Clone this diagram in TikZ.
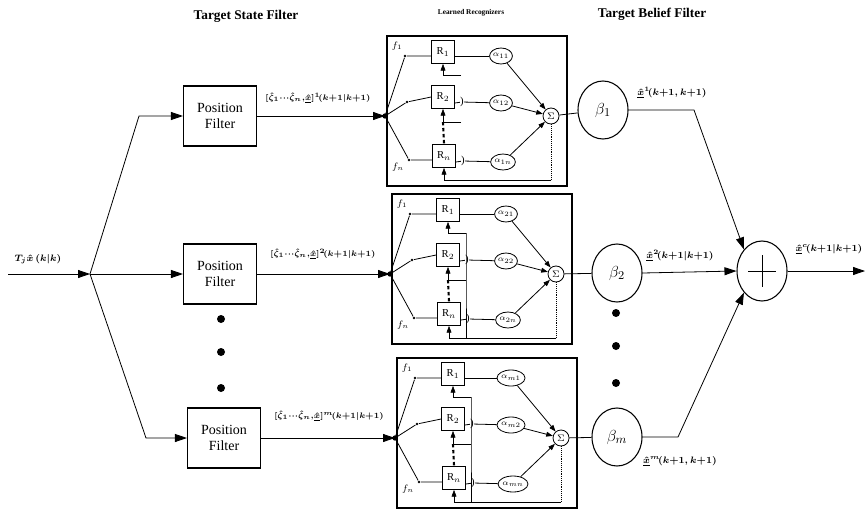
\documentclass[tikz,border=0pt]{standalone}
\usepackage{fontspec}
\setmainfont{Liberation Serif}
\usetikzlibrary{arrows.meta,shapes.geometric}
\tikzset{
  arrB/.style={-{Triangle[length=9pt,width=6pt]}},
  arrS/.style={-{Triangle[length=5pt,width=3.6pt]}},
  pfbox/.style={draw, line width=0.8pt, minimum width=54.75pt, minimum height=45pt, align=center, inner sep=1pt, font=\fontsize{10.5}{12.5}\selectfont},
  recframe/.style={line width=1pt},
  rbox/.style={draw, line width=0.8pt, minimum size=17pt, inner sep=0pt, font=\fontsize{8}{9}\selectfont},
  anode/.style={draw, ellipse, minimum width=17pt, minimum height=12pt, inner sep=0pt, font=\fontsize{6.5}{7}\selectfont},
  snode/.style={draw, circle, minimum size=12pt, inner sep=0pt, font=\fontsize{7}{8}\selectfont},
  bnode/.style={draw, ellipse, minimum width=37.5pt, minimum height=43.5pt, line width=0.8pt, inner sep=0pt, font=\fontsize{13}{14}\selectfont},
  sumnode/.style={draw, ellipse, minimum width=37.5pt, minimum height=45pt, line width=0.8pt, inner sep=0pt},
  smalldot/.style={circle, fill, inner sep=0pt, minimum size=2.2pt},
  bigdot/.style={circle, fill, inner sep=0pt, minimum size=6pt},
  flab/.style={inner sep=0pt, font=\fontsize{7}{8}\selectfont},
  brk/.style={inner sep=0pt, font=\fontsize{8}{9}\selectfont},
  ttl/.style={font=\bfseries\fontsize{10}{12}\selectfont},
  elab/.style={inner sep=0pt, font=\fontsize{6.3}{7}\selectfont\bfseries\boldmath},
  olab/.style={inner sep=0pt, font=\fontsize{7}{8}\selectfont\bfseries\boldmath},
  dotcol/.style={line width=1.6pt, dash pattern=on 2.5pt off 2pt},
  fbline/.style={line width=0.4pt},
}
\newcommand{\recbox}[6]{%
\begin{scope}[shift={(#2,#3)}]
  \draw[recframe] (0,0) rectangle (180,150);
  \coordinate (#1J) at (-2,80);
  \node[smalldot, minimum size=4pt] (#1Jd) at (#1J) {};
  \node[smalldot] (#1d1) at (18,20) {};
  \node[smalldot] (#1d2) at (20,66) {};
  \node[smalldot] (#1d3) at (22,124) {};
  \node[flab] (#1f1) at (10,10) {$f_1$};
  \node[flab] (#1fn) at (11,131) {$f_n$};
  \node[rbox] (#1R1) at (56,16) {R$_1$};
  \node[rbox] (#1R2) at (56,61) {R$_2$};
  \node[rbox] (#1Rn) at (57,120) {R$_n$};
  \node[anode] (#1a1) at (114,20) {$\alpha_{#4}$};
  \node[anode] (#1a2) at (114,67) {$\alpha_{#5}$};
  \node[anode] (#1a3) at (116,126) {$\alpha_{#6}$};
  \node[snode] (#1S) at (164,80) {$\Sigma$};
  \node[brk] (#1b2) at (75,66) {)};
  \node[brk] (#1b3) at (76,125) {)};
  \coordinate (#1t1) at (74,39);
  \coordinate (#1t2) at (74,86);
  \coordinate (#1t3) at (164,144);
  \coordinate (#1u1) at (56,39);
  \coordinate (#1u2) at (56,86);
  \coordinate (#1u3) at (57,144);
  \draw (#1J) -- (#1d1) -- (#1d1 -| #1R1.west);
  \draw (#1J) -- (#1d2) -- (#1R2.west);
  \draw (#1J) -- (#1d3) -- (#1d3 -| #1Rn.west);
  \draw (#1R1.east |- #1a1) -- (#1a1);
  \draw (#1R2.east |- #1a2) -- (#1b2);
  \draw (#1b2) -- (#1a2);
  \draw (#1Rn.east |- #1a3) -- (#1b3);
  \draw (#1b3) -- (#1a3);
  \draw[arrS] (#1a1) -- (#1S);
  \draw[arrS] (#1a2) -- (#1S);
  \draw[arrS] (#1a3) -- (#1S);
  \draw[fbline, densely dotted] (#1S.south) -- (#1t3);
  \draw[fbline, arrS] (#1t3) -- (#1u3) -- (#1Rn.south);
  \draw[fbline, arrS] (#1t1) -- (#1u1) -- (#1R1.south);
  \draw[fbline, arrS] (#1t2) -- (#1u2) -- (#1R2.south);
  \draw[dotcol] (#1u2) -- (#1Rn.north);
\end{scope}}
\newcommand{\zlab}[1]{$[\hat{\zeta}_1{\cdot}{\cdot}{\cdot}\hat{\zeta}_n{,}\underline{\hat{x}}]^{#1}\!(k{+}1|k{+}1)$}
\newcommand{\xlab}[2]{$\underline{\hat{x}}^{#1}\!(k{+}1#2k{+}1)$}

\begin{document}
\begin{tikzpicture}[x=0.75pt,y=-0.75pt,line width=0.6pt]
\useasboundingbox (0,0) rectangle (866,510);

% titles
\node[ttl] (t1) at (246,16) {Target State Filter};
\node[ttl] (t2) at (652,14) {Target Belief Filter};
\node[font=\bfseries\fontsize{5.5}{6.5}\selectfont] (t3) at (471,13) {Learned Recognizers};

% position filters
\node[pfbox] (pf1) at (220,116) {Position\\Filter};
\node[pfbox] (pf2) at (220,274) {Position\\Filter};
\node[pfbox] (pf3) at (224,438) {Position\\Filter};
\node[bigdot] (v1) at (221,319) {};
\node[bigdot] (v2) at (221,352) {};
\node[bigdot] (v3) at (221,388) {};

% input
\coordinate (in) at (8,274);
\coordinate (split) at (90,274);
\coordinate (k1) at (139,116);
\coordinate (k3) at (146,438);
\node[olab, font=\fontsize{7.5}{8}\selectfont\bfseries\boldmath] (inlab) at (38,259) {$T_j\hat{x}\,(k|k)$};
\draw[arrB] (in) -- (split);
\draw[arrB] (split) -- (k1) -- (pf1.west);
\draw[arrB] (split) -- (pf2.west);
\draw[arrB] (split) -- (k3) -- (pf3.west);

% recognizer boxes
\recbox{A}{387}{36}{11}{12}{1n}
\recbox{B}{392}{194}{21}{22}{2n}
\recbox{C}{397}{358}{m1}{m2}{mn}
\draw[fbline] (Bt1) -- (Bt2) -- (Bu3 -| Bt1);
\draw[fbline] (Ct1) -- (Ct2) -- (Cu3 -| Ct1);

% filter outputs
\draw[arrB] (pf1.east |- AJ) -- (AJ);
\draw[arrB] (pf2.east |- BJ) -- (BJ);
\draw[arrB] (pf3.east |- CJ) -- (CJ);
\node[elab] (l1) at (318,98) {\zlab{1}};
\node[elab] (l2) at (323,254) {\zlab{2}};
\node[elab] (l3) at (329,416) {\zlab{m}};

% belief nodes
\node[bnode] (b1) at (603,110) {$\beta_1$};
\node[bnode] (b2) at (617,273) {$\beta_2$};
\node[bnode] (bm) at (617,437) {$\beta_m$};
\node[bigdot] (w1) at (616,313) {};
\node[bigdot] (w2) at (616,346) {};
\node[bigdot] (w3) at (616,383) {};
\draw (AS) -- (b1);
\draw (BS) -- (b2);
\draw (CS) -- (bm);

% sum
\node[sumnode] (sum) at (762,271) {};
\draw (sum.center) +(-14,0) -- +(14,0);
\draw (sum.center) +(0,-16) -- +(0,16);
\coordinate (c1) at (694,110);
\coordinate (cm) at (678,437);
\coordinate (outE) at (865,271);
\draw[arrB] (b1.east) -- (c1) -- (sum.north west);
\draw[arrB] (b2.east) -- (sum.west);
\draw[arrB] (bm.east) -- (cm) -- (sum.south west);
\draw[arrB] (sum.east) -- (outE);

\node[olab] (o1) at (672,93) {\xlab{1}{,}};
\node[olab] (o2) at (680,256) {\xlab{2}{|}};
\node[olab] (om) at (680,461) {\xlab{m}{,}};
\node[olab] (oc) at (829,249) {\xlab{c}{|}};
\end{tikzpicture}
\end{document}
